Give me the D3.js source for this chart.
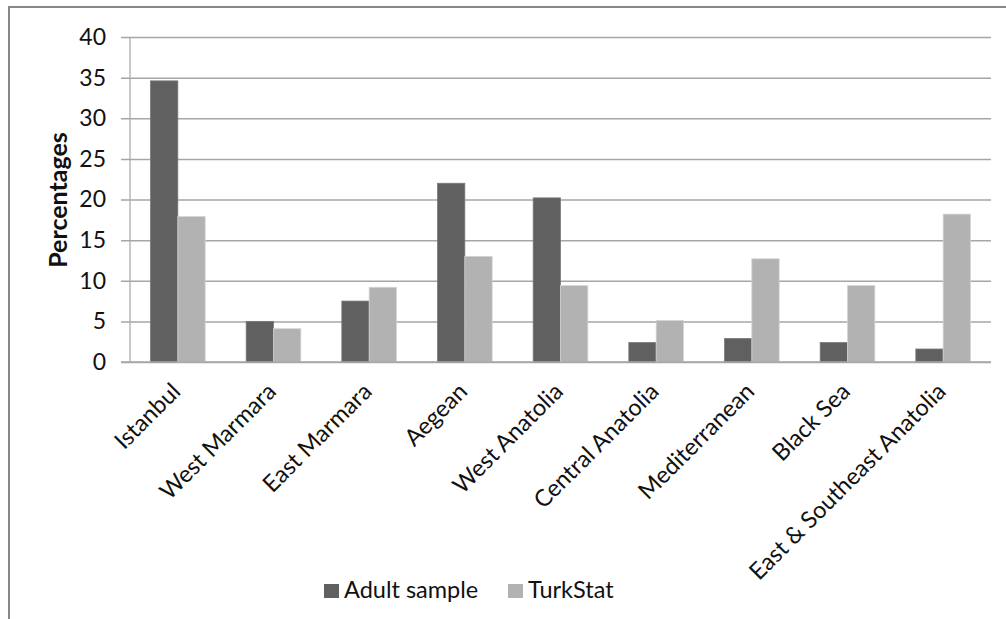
<!DOCTYPE html>
<html>
<head>
<meta charset="utf-8">
<script src="https://cdn.jsdelivr.net/npm/d3@7"></script>
<style>
  html, body { margin: 0; padding: 0; background: #fff; }
  svg { display: block; font-family: Lato, "Open Sans", sans-serif; }
</style>
</head>
<body>
<svg id="chart" width="1006" height="619"></svg>
<script>
// Regional distribution: adult sample vs TurkStat population shares (%)
const regions = ["Istanbul", "West Marmara", "East Marmara", "Aegean", "West Anatolia",
                 "Central Anatolia", "Mediterranean", "Black Sea", "East & Southeast Anatolia"];
const adultSample = [34.6, 5.0, 7.5, 22.0, 20.2, 2.4, 2.9, 2.4, 1.6];
const turkStat    = [17.9, 4.1, 9.2, 13.0, 9.4, 5.1, 12.7, 9.4, 18.2];
const seriesNames = ["Adult sample", "TurkStat"];
const yTicks = [0, 5, 10, 15, 20, 25, 30, 35, 40];

const colors = { "Adult sample": "#606060", "TurkStat": "#b2b2b2" };

const svg = d3.select("#chart");

// outer chart frame (top and left edges visible)
svg.append("rect")
  .attr("x", 9).attr("y", 7)
  .attr("width", 1100).attr("height", 700)
  .attr("fill", "none").attr("stroke", "#888").attr("stroke-width", 2);

const plot = { left: 130, right: 991, top: 37, bottom: 362 };

const y = d3.scaleLinear().domain([0, 40]).range([plot.bottom, plot.top]);
const x0 = d3.scaleBand().domain(regions).range([plot.left, plot.right]).padding(0);
const gap = x0.bandwidth() * (1.5 / 3.5) / 2;
const x1 = d3.scaleBand().domain(seriesNames)
  .range([gap, x0.bandwidth() - gap]).padding(0);

// horizontal gridlines + tick marks
const yAxis = d3.axisLeft(y).tickValues(yTicks)
  .tickSize(-(plot.right - plot.left)).tickPadding(24);
const gy = svg.append("g")
  .attr("transform", `translate(${plot.left},0)`)
  .call(yAxis);
gy.select(".domain").remove();
gy.selectAll(".tick line")
  .attr("x1", -9)
  .attr("stroke", "#a6a6a6").attr("stroke-width", 1.5);
gy.selectAll(".tick text")
  .attr("fill", "#111").style("font-size", "23px")
  .style("font-family", "Lato, sans-serif");

// vertical axis line
svg.append("line")
  .attr("x1", plot.left).attr("x2", plot.left)
  .attr("y1", plot.top).attr("y2", plot.bottom)
  .attr("stroke", "#a6a6a6").attr("stroke-width", 1.2);

// bars
const rows = regions.map((r, i) => ({ region: r, values: [
  { key: "Adult sample", value: adultSample[i] },
  { key: "TurkStat", value: turkStat[i] }
]}));

const groups = svg.append("g").selectAll("g")
  .data(rows).join("g")
  .attr("transform", d => `translate(${x0(d.region)},0)`);

groups.selectAll("rect")
  .data(d => d.values).join("rect")
  .attr("x", d => x1(d.key))
  .attr("width", x1.bandwidth())
  .attr("y", d => y(d.value))
  .attr("height", d => y(0) - y(d.value))
  .attr("fill", d => colors[d.key])
  .attr("stroke", d => d.key === "TurkStat" ? "#d4d4d4" : "#7a7a7a")
  .attr("stroke-width", 0.8);

// baseline redrawn on top of bars
svg.append("line")
  .attr("x1", plot.left - 9).attr("x2", plot.right)
  .attr("y1", plot.bottom).attr("y2", plot.bottom)
  .attr("stroke", "#a6a6a6").attr("stroke-width", 1.5);

// category labels, rotated
svg.append("g").selectAll("text")
  .data(regions).join("text")
  .attr("transform", d => `translate(${x0(d) + x0.bandwidth() / 2 + 4},393) rotate(-45)`)
  .attr("text-anchor", "end")
  .attr("fill", "#111")
  .style("font-size", "23.5px")
  .text(d => d);

// y-axis title
svg.append("text")
  .attr("transform", `translate(67,200) rotate(-90)`)
  .attr("text-anchor", "middle")
  .attr("fill", "#111")
  .style("font-size", "25px").style("font-weight", "bold")
  .text("Percentages");

// legend
const legendItems = [
  { key: "Adult sample", sx: 324, tx: 344 },
  { key: "TurkStat", sx: 508, tx: 528 }
];
const lg = svg.append("g").selectAll("g").data(legendItems).join("g");
lg.append("rect")
  .attr("x", d => d.sx).attr("y", 584)
  .attr("width", 15).attr("height", 14)
  .attr("fill", d => colors[d.key]);
lg.append("text")
  .attr("x", d => d.tx).attr("y", 598)
  .attr("fill", "#111")
  .style("font-size", "23.5px")
  .text(d => d.key);
</script>
</body>
</html>
